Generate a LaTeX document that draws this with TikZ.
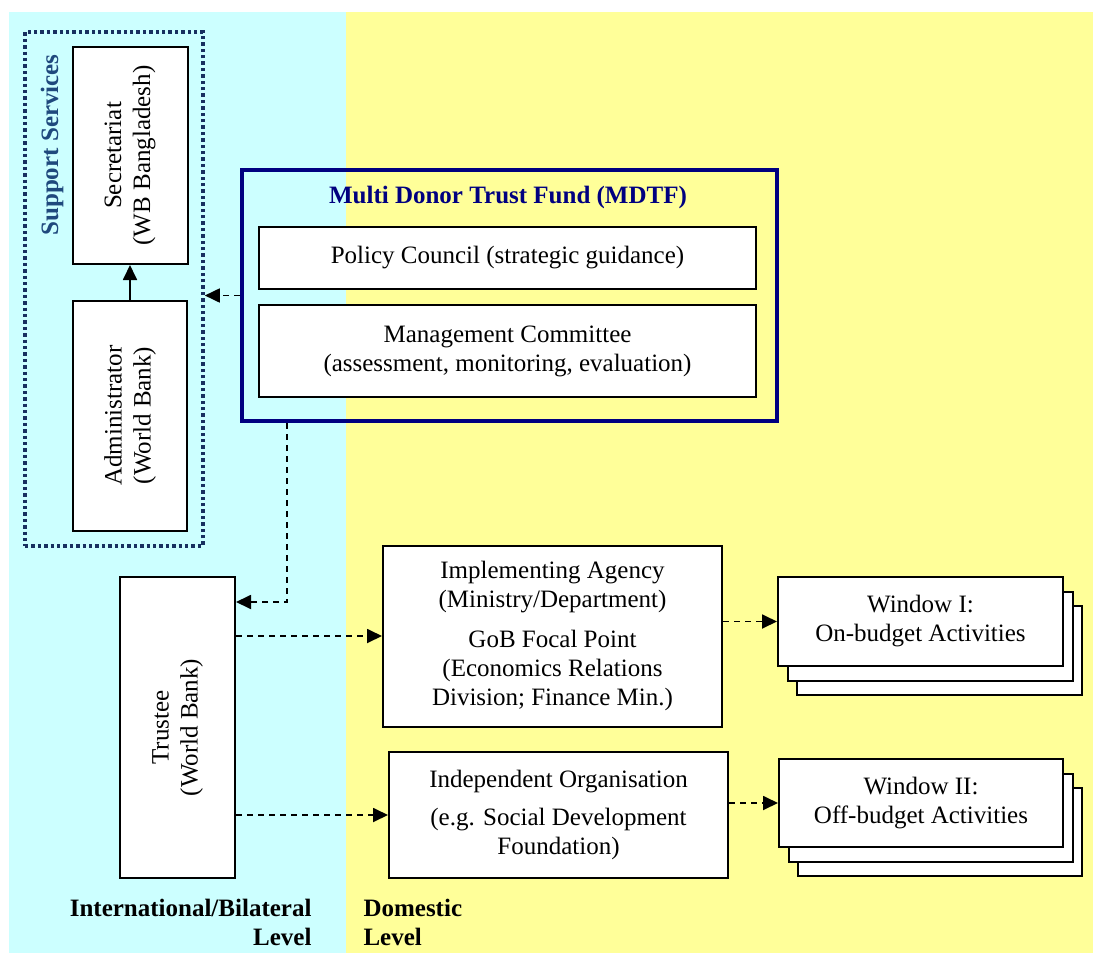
\documentclass[tikz,border=0pt]{standalone}
\usepackage{fontspec}
\setmainfont{Liberation Serif}
\usetikzlibrary{arrows.meta}
\definecolor{intlbg}{RGB}{204,255,255}
\definecolor{dombg}{RGB}{255,255,153}
\definecolor{fundblue}{RGB}{0,0,128}
\definecolor{supportblue}{RGB}{24,48,96}
\definecolor{supporttext}{RGB}{31,73,125}

\begin{document}
\begin{tikzpicture}[x=1pt, y=-1pt, font=\fontsize{25}{29}\selectfont,
    box/.style={draw, line width=2pt, fill=white, align=center, inner sep=2pt},
    flow/.style={line width=1.8pt, dash pattern=on 6pt off 5pt, -{Triangle[length=15pt,width=14pt]}},
    feed/.style={line width=1.8pt, -{Triangle[length=15pt,width=14pt]}}]
    \useasboundingbox (0,0) rectangle (1093,953);
    % the two levels
    \fill[intlbg] (9,12) rectangle (346,953);
    \fill[dombg] (346,12) rectangle (1093,953);
    % support services
    \node[draw=supportblue, line width=3.6pt, dash pattern=on 3.4pt off 3pt,
      minimum width=178pt, minimum height=514pt] (sup) at (114, 289) {};
    \node[rotate=90, text=supporttext, font=\fontsize{25}{29}\selectfont\bfseries] (suplabel) at (52, 145) {Support Services};
    \node[box, rotate=90, minimum width=217pt, minimum height=115pt] (sec) at (130, 155.5) {Secretariat\\(WB Bangladesh)};
    \node[box, rotate=90, minimum width=230pt, minimum height=114pt] (adm) at (130, 415.5) {Administrator\\(World Bank)};
    % trust fund
    \node[draw=fundblue, line width=4pt, minimum width=535pt, minimum height=251pt] (mdtf) at (509.5, 295.5) {};
    \node[text=fundblue, font=\fontsize{25}{29}\selectfont\bfseries] (mdtftitle) at (508, 197) {Multi Donor Trust Fund (MDTF)};
    \node[box, minimum width=497pt, minimum height=62pt] (pc) at (507.5, 258) {Policy Council (strategic guidance)};
    \node[box, minimum width=497pt, minimum height=92pt] (mc) at (507.5, 351) {Management Committee\\(assessment, monitoring, evaluation)};
    % trustee and recipients
    \node[box, rotate=90, minimum width=301pt, minimum height=115pt] (trustee) at (177.5, 727.5) {Trustee\\(World Bank)};
    \node[box, minimum width=339pt, minimum height=181pt] (ia) at (552.5, 636) {Implementing Agency\\(Ministry/Department)\\[11pt]GoB Focal Point\\(Economics Relations\\Division; Finance Min.)};
    \node[box, minimum width=339pt, minimum height=126pt] (io) at (558.5, 815) {Independent Organisation\\[9pt](e.g. Social Development\\Foundation)};
    % windows
    \node[box, minimum width=285pt, minimum height=89pt] (win1c) at (939.5, 650.5) {};
    \node[box, minimum width=285pt, minimum height=89pt] (win1b) at (930, 636) {};
    \node[box, minimum width=285pt, minimum height=89pt] (win1) at (920.5, 621.5) {Window I:\\On-budget Activities};
    \node[box, minimum width=284pt, minimum height=88pt] (win2c) at (940, 832) {};
    \node[box, minimum width=284pt, minimum height=88pt] (win2b) at (930.5, 817.5) {};
    \node[box, minimum width=284pt, minimum height=88pt] (win2) at (921, 803) {Window II:\\Off-budget Activities};
    % level labels
    \node[align=right, anchor=east, font=\fontsize{25}{29}\selectfont\bfseries] (intl) at (315, 922) {International/Bilateral\\Level};
    \node[align=left, anchor=west, font=\fontsize{25}{29}\selectfont\bfseries] (dom) at (360, 922) {Domestic\\Level};
    % connectors
    \coordinate (bend) at (287, 602);
    \draw[feed] (adm) to (sec);
    \draw[flow] (mdtf.west) to (mdtf.west -| sup.east);
    \draw[flow] (bend |- mdtf.south) -- (bend) -- (bend -| trustee.south);
    \draw[flow] (trustee.south |- ia.west) to (ia.west);
    \draw[flow] (trustee.south |- io.west) to (io.west);
    \draw[flow] (ia.east |- win1.west) to (win1.west);
    \draw[flow] (io.east |- win2.west) to (win2.west);
\end{tikzpicture}
\end{document}
